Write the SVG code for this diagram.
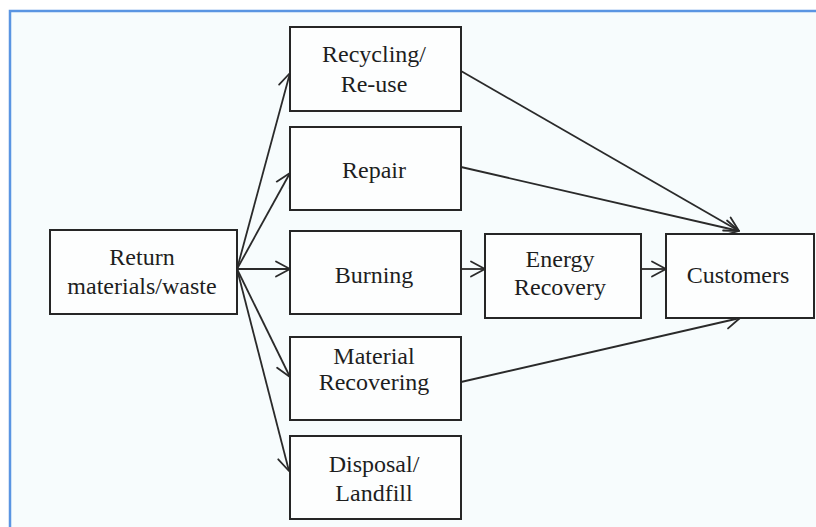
<svg xmlns="http://www.w3.org/2000/svg" width="816" height="527" viewBox="0 0 816 527">
  <style>
    .box { fill: #fdfefe; stroke: #262626; stroke-width: 2; }
    text { font-family: "Liberation Serif", "Times New Roman", serif; font-size: 24px; fill: #1e1e1e; text-anchor: middle; }
    .edge { fill: none; stroke: #2a2a2a; stroke-width: 1.8; marker-end: url(#open); }
  </style>
  <defs>
    <marker id="open" markerUnits="userSpaceOnUse" viewBox="-17 -10 19 20" refX="0" refY="0" markerWidth="19" markerHeight="20" orient="auto">
      <path d="M-14,-7.5 L0,0 L-14,7.5" fill="none" stroke="#2a2a2a" stroke-width="1.8" stroke-linecap="round" stroke-linejoin="round"/>
    </marker>
  </defs>

  <!-- page background and frame -->
  <rect x="0" y="0" width="816" height="527" fill="#ffffff"/>
  <rect x="10" y="11" width="820" height="530" fill="#f7fcfd" stroke="#5a95e2" stroke-width="2.5"/>

  <!-- connectors -->
  <g id="connectors">
    <line class="edge" x1="237" y1="269" x2="290" y2="73"/>
    <line class="edge" x1="237" y1="269" x2="290" y2="173"/>
    <line class="edge" x1="237" y1="269" x2="290" y2="269"/>
    <line class="edge" x1="237" y1="269" x2="290" y2="377"/>
    <line class="edge" x1="237" y1="269" x2="289" y2="471"/>
    <line class="edge" x1="461" y1="269" x2="485" y2="269"/>
    <line class="edge" x1="641" y1="269" x2="666" y2="269"/>
    <line class="edge" x1="461" y1="71" x2="739" y2="231"/>
    <line class="edge" x1="461" y1="167" x2="739" y2="231"/>
    <line class="edge" x1="461" y1="382" x2="740" y2="318"/>
  </g>

  <!-- nodes -->
  <g id="return">
    <rect class="box" x="50" y="230" width="187" height="84"/>
    <text x="142" y="265">Return</text>
    <text x="142" y="294">materials/waste</text>
  </g>
  <g id="recycling">
    <rect class="box" x="290" y="27" width="171" height="84"/>
    <text x="374" y="62">Recycling/</text>
    <text x="374" y="92">Re-use</text>
  </g>
  <g id="repair">
    <rect class="box" x="290" y="127" width="171" height="83"/>
    <text x="374" y="178">Repair</text>
  </g>
  <g id="burning">
    <rect class="box" x="290" y="231" width="171" height="83"/>
    <text x="374" y="283">Burning</text>
  </g>
  <g id="material">
    <rect class="box" x="290" y="337" width="171" height="83"/>
    <text x="374" y="364">Material</text>
    <text x="374" y="390">Recovering</text>
  </g>
  <g id="disposal">
    <rect class="box" x="290" y="436" width="171" height="83"/>
    <text x="374" y="472">Disposal/</text>
    <text x="374" y="501">Landfill</text>
  </g>
  <g id="energy">
    <rect class="box" x="485" y="234" width="156" height="84"/>
    <text x="560" y="267">Energy</text>
    <text x="560" y="295">Recovery</text>
  </g>
  <g id="customers">
    <rect class="box" x="666" y="234" width="148" height="84"/>
    <text x="738" y="283">Customers</text>
  </g>
</svg>
